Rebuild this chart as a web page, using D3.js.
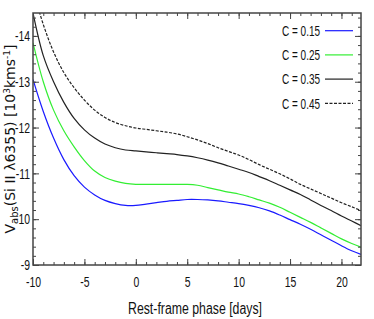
<!DOCTYPE html>
<html lang="en">
  <head>
    <meta charset="utf-8">
    <title>Si II velocity</title>
    <script src="https://d3js.org/d3.v7.min.js"></script>
    <style>
      body { margin: 0; background: white; }
    </style>
  </head>
  <body>
    <script type="text/javascript">
      // phases (days) shared by all curves
      const phases = [-10, -9, -8, -7, -6, -5, -4, -3, -2, -1, 0, 1, 2, 3, 4, 5, 6, 7, 8, 9, 10,
                      11, 12, 13, 14, 15, 16, 17, 18, 19, 20, 21, 21.9];
      const c015 = [13.05, 12.35, 11.77, 11.30, 10.95, 10.70, 10.53, 10.41, 10.34, 10.30, 10.30, 10.33, 10.36,
                    10.39, 10.41, 10.43, 10.43, 10.42, 10.40, 10.37, 10.34, 10.30, 10.25, 10.18, 10.09, 9.99,
                    9.89, 9.78, 9.66, 9.54, 9.42, 9.31, 9.23];
      const c025 = [13.85, 13.0, 12.38, 11.93, 11.58, 11.28, 11.05, 10.91, 10.83, 10.78, 10.76, 10.76, 10.76,
                    10.76, 10.76, 10.76, 10.74, 10.69, 10.64, 10.59, 10.55, 10.49, 10.42, 10.35, 10.26, 10.15,
                    10.04, 9.93, 9.81, 9.69, 9.57, 9.47, 9.39];
      const c035 = [14.5, 13.57, 13.0, 12.55, 12.2, 11.95, 11.77, 11.64, 11.56, 11.51, 11.49, 11.47, 11.45,
                    11.43, 11.41, 11.38, 11.34, 11.29, 11.23, 11.16, 11.09, 11.02, 10.93, 10.84, 10.74, 10.64,
                    10.54, 10.42, 10.30, 10.19, 10.07, 9.96, 9.86];
      const c045 = [15.0, 14.25, 13.65, 13.2, 12.87, 12.6, 12.38, 12.22, 12.11, 12.04, 11.99, 11.96, 11.93,
                    11.90, 11.86, 11.80, 11.73, 11.65, 11.56, 11.48, 11.40, 11.30, 11.19, 11.09, 10.99, 10.88,
                    10.76, 10.66, 10.56, 10.46, 10.36, 10.27, 10.19];

      const seriesNames = ["C = 0.15", "C = 0.25", "C = 0.35", "C = 0.45"];
      const seriesValues = [c015, c025, c035, c045];
      const seriesColors = ["#1a1aff", "#33ee33", "#222222", "#222222"];
      const seriesDash = [null, null, null, "3,1.5"];

      const xMajor = [-10, -5, 0, 5, 10, 15, 20];
      const xTickLabels = ["-10", "-5", "0", "5", "10", "15", "20"];
      const yMajor = [9, 10, 11, 12, 13, 14];
      const yTickLabels = ["-9", "10", "-11", "-12", "-13", "-14"];

      const svgWidth = 374, svgHeight = 319;
      const plotLeft = 33, plotRight = 361, plotTop = 13, plotBottom = 265;
      const font = "'Liberation Sans', Arial, sans-serif";
      const axisColor = "#444";
      const squeeze = 0.72; // the original uses a condensed face

      const svg = d3.select("body")
        .append("svg")
        .attr("width", svgWidth)
        .attr("height", svgHeight);

      const x = d3.scaleLinear().domain([-10, 21.9]).range([plotLeft, plotRight]);
      const y = d3.scaleLinear().domain([9, 14.5]).range([plotBottom, plotTop]);

      const xMinor = d3.range(-10, 22, 1);
      const yMinor = d3.range(9, 14.5, 0.2);

      svg.append("defs").append("clipPath")
        .attr("id", "plot-clip")
        .append("rect")
        .attr("x", plotLeft).attr("y", plotTop)
        .attr("width", plotRight - plotLeft).attr("height", plotBottom - plotTop);

      // curves
      const line = d3.line()
        .x(d => x(d[0]))
        .y(d => y(d[1]))
        .curve(d3.curveCatmullRom.alpha(0.5));

      svg.append("g")
        .attr("clip-path", "url(#plot-clip)")
        .selectAll("path")
        .data(seriesValues)
        .enter()
        .append("path")
        .attr("d", vals => line(phases.map((p, i) => [p, vals[i]])))
        .attr("fill", "none")
        .attr("stroke", (d, i) => seriesColors[i])
        .attr("stroke-width", 1.2)
        .attr("stroke-dasharray", (d, i) => seriesDash[i]);

      function styleAxis(g) {
        g.select(".domain").remove();
        g.selectAll("line").attr("stroke", axisColor).attr("stroke-width", 1);
        g.selectAll("text")
          .attr("font-family", font)
          .attr("font-size", "14.5px")
          .attr("fill", "#111")
          .attr("transform", `scale(${squeeze},1)`);
      }

      // minor ticks (inward, all four sides)
      svg.append("g").attr("transform", `translate(0,${plotBottom})`)
        .call(d3.axisBottom(x).tickValues(xMinor).tickSize(-3).tickFormat(""))
        .call(styleAxis);
      svg.append("g").attr("transform", `translate(0,${plotTop})`)
        .call(d3.axisTop(x).tickValues(xMinor).tickSize(-3).tickFormat(""))
        .call(styleAxis);
      svg.append("g").attr("transform", `translate(${plotLeft},0)`)
        .call(d3.axisLeft(y).tickValues(yMinor).tickSize(-3).tickFormat(""))
        .call(styleAxis);
      svg.append("g").attr("transform", `translate(${plotRight},0)`)
        .call(d3.axisRight(y).tickValues(yMinor).tickSize(-3).tickFormat(""))
        .call(styleAxis);

      // major ticks + labels
      svg.append("g").attr("transform", `translate(0,${plotBottom})`)
        .call(d3.axisBottom(x).tickValues(xMajor).tickSize(-6).tickPadding(11.5)
          .tickFormat((d, i) => xTickLabels[i]))
        .call(styleAxis);
      svg.append("g").attr("transform", `translate(0,${plotTop})`)
        .call(d3.axisTop(x).tickValues(xMajor).tickSize(-6).tickFormat(""))
        .call(styleAxis);
      svg.append("g").attr("transform", `translate(${plotLeft},0)`)
        .call(d3.axisLeft(y).tickValues(yMajor).tickSize(-6).tickPadding(4)
          .tickFormat((d, i) => yTickLabels[i]))
        .call(styleAxis);
      svg.append("g").attr("transform", `translate(${plotRight},0)`)
        .call(d3.axisRight(y).tickValues(yMajor).tickSize(-6).tickFormat(""))
        .call(styleAxis);

      // frame
      svg.append("rect")
        .attr("x", plotLeft).attr("y", plotTop)
        .attr("width", plotRight - plotLeft).attr("height", plotBottom - plotTop)
        .attr("fill", "none")
        .attr("stroke", axisColor)
        .attr("stroke-width", 1.5);

      // legend
      const legend = svg.append("g").attr("class", "legend")
        .selectAll("g")
        .data(seriesNames)
        .enter()
        .append("g")
        .attr("transform", (d, i) => `translate(0,${30.7 + i * 24.2})`);
      legend.append("text")
        .attr("x", 320).attr("y", 5.3)
        .attr("text-anchor", "end")
        .attr("font-family", font)
        .attr("font-size", "14.5px")
        .attr("textLength", 38)
        .attr("lengthAdjust", "spacingAndGlyphs")
        .attr("fill", "#111")
        .text(d => d);
      legend.append("line")
        .attr("x1", 325).attr("x2", 353)
        .attr("stroke", (d, i) => seriesColors[i])
        .attr("stroke-width", 1.2)
        .attr("stroke-dasharray", (d, i) => seriesDash[i]);

      // axis titles
      svg.append("text")
        .attr("x", 195).attr("y", 314)
        .attr("text-anchor", "middle")
        .attr("font-family", font)
        .attr("font-size", "16px")
        .attr("textLength", 134)
        .attr("lengthAdjust", "spacingAndGlyphs")
        .attr("fill", "#111")
        .text("Rest-frame phase [days]");

      const ylab = svg.append("text")
        .attr("transform", "translate(14.5,139) rotate(-90)")
        .attr("text-anchor", "middle")
        .attr("font-family", "'DejaVu Sans', sans-serif")
        .attr("font-size", "14px")
        .attr("fill", "#111");
      ylab.append("tspan").text("V");
      ylab.append("tspan").attr("font-size", "10px").attr("dy", 3).text("abs");
      ylab.append("tspan").attr("dy", -3).text("(Si II \u03bb6355)  [10");
      ylab.append("tspan").attr("font-size", "9px").attr("dy", -5).text("3");
      ylab.append("tspan").attr("dy", 5).text("kms");
      ylab.append("tspan").attr("font-size", "9px").attr("dy", -5).text("-1");
      ylab.append("tspan").attr("dy", 5).text("]");
    </script>
  </body>
</html>
